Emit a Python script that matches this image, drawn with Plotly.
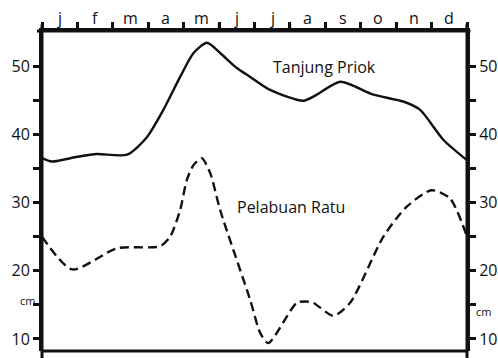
import plotly.graph_objects as go

# Monthly mean sea level (cm), position along the year in months from 1 January
months = ["j", "f", "m", "a", "m", "j", "j", "a", "s", "o", "n", "d"]

priok_t = [0, 0.28, 1.0, 1.55, 2.4, 2.95, 3.43, 3.9, 4.28, 4.66, 5.03, 5.5, 5.88, 6.44,
           7.38, 7.76, 8.42, 9.36, 10.2, 10.67, 11.33, 12.0]
priok_cm = [36.5, 36.0, 36.7, 37.1, 37.0, 39.5, 43.6, 48.4, 51.9, 53.4, 51.9, 49.7, 48.4, 46.5,
            44.9, 45.8, 47.7, 45.8, 44.8, 43.6, 39.2, 36.2]

ratu_t = [0, 0.85, 2.12, 3.34, 3.62, 3.9, 4.09, 4.28, 4.51, 4.75, 5.03, 5.88, 6.16, 6.39,
          7.19, 7.43, 7.66, 8.23, 8.7, 9.64, 10.3, 11.0, 11.52, 12.0]
ratu_cm = [25.0, 20.2, 23.3, 23.6, 25.0, 28.9, 33.3, 35.5, 36.5, 34.3, 28.9, 15.7, 10.9, 9.4,
           15.3, 15.5, 15.3, 13.4, 15.3, 25.0, 29.4, 31.8, 30.6, 25.0]

y_major = [10, 20, 30, 40, 50]
y_minor = [15, 25, 35, 45]
y_range = [8.24, 55.13]

FONT = "Open Sans, Noto Sans, sans-serif"
INK = "#111111"
PLOT_H = 358 - 31 - 7  # plot-area height in px

fig = go.Figure()

fig.add_trace(go.Scatter(
    x=priok_t, y=priok_cm, mode="lines", name="Tanjung Priok",
    line=dict(color=INK, width=2.4, shape="spline", smoothing=0.7),
    showlegend=False, hoverinfo="skip",
))
fig.add_trace(go.Scatter(
    x=ratu_t, y=ratu_cm, mode="lines", name="Pelabuan Ratu",
    line=dict(color=INK, width=2.4, shape="spline", smoothing=0.7, dash="9px,5px"),
    showlegend=False, hoverinfo="skip",
))
# invisible trace so the right-hand axis is drawn
fig.add_trace(go.Scatter(x=[0.5], y=[30], yaxis="y2", mode="markers",
                         marker=dict(opacity=0), showlegend=False, hoverinfo="skip"))

month_centres = [i + 0.5 for i in range(12)]
month_edges = list(range(13))

tick_style = dict(ticks="outside", ticklen=6, tickwidth=2.5, tickcolor=INK)

# month names centred between the boundary ticks, just above the top axis
month_labels = [
    dict(x=xc, y=1, xref="x", yref="paper", text=m, showarrow=False,
         yanchor="bottom", yshift=0, font=dict(size=16, family=FONT, color=INK))
    for xc, m in zip(month_centres, months)
]

# month-boundary ticks on the top axis
month_ticks = [
    dict(type="line", xref="x", yref="paper", x0=e, x1=e, y0=1, y1=1 + 7 / PLOT_H,
         line=dict(color=INK, width=2.5))
    for e in month_edges
]

frame = [
    # bottom border of the frame
    dict(type="line", xref="paper", yref="paper", x0=0, x1=1, y0=0, y1=0,
         line=dict(color=INK, width=3)),
    # axis lines continue a little past the frame corners
    dict(type="line", xref="paper", yref="paper", x0=0, x1=0, y0=-0.05, y1=1.02,
         line=dict(color=INK, width=3)),
    dict(type="line", xref="paper", yref="paper", x0=1, x1=1, y0=-0.05, y1=1.02,
         line=dict(color=INK, width=3)),
    dict(type="line", xref="paper", yref="paper", x0=-0.012, x1=1.008, y0=1, y1=1,
         line=dict(color=INK, width=3)),
]

fig.update_layout(
    width=498, height=358,
    margin=dict(l=42, r=31, t=31, b=7, autoexpand=False),
    paper_bgcolor="white", plot_bgcolor="white",
    font=dict(family=FONT, size=16, color=INK),
    xaxis=dict(
        range=[0, 12], side="top", showgrid=False, zeroline=False, automargin=False,
        showline=True, linecolor=INK, linewidth=3,
        tickmode="array", tickvals=month_edges, ticktext=[""] * len(month_edges),
        **tick_style,
    ),
    yaxis=dict(
        range=y_range, showgrid=False, zeroline=False, automargin=False,
        showline=True, linecolor=INK, linewidth=3,
        tickmode="array", tickvals=y_major, **tick_style,
        tickfont=dict(size=16, family=FONT, color=INK),
        minor=dict(tickmode="array", tickvals=y_minor, showgrid=False, **tick_style),
    ),
    yaxis2=dict(
        range=y_range, overlaying="y", side="right", showgrid=False, zeroline=False,
        automargin=False, showline=True, linecolor=INK, linewidth=3,
        tickmode="array", tickvals=y_major, **tick_style,
        tickfont=dict(size=16, family=FONT, color=INK),
        minor=dict(tickmode="array", tickvals=y_minor, showgrid=False, **tick_style),
    ),
    annotations=month_labels + [
        dict(x=7.97, y=49.85, xref="x", yref="y", text="Tanjung Priok",
             showarrow=False, font=dict(size=16, family=FONT, color=INK)),
        dict(x=7.03, y=29.4, xref="x", yref="y", text="Pelabuan Ratu",
             showarrow=False, font=dict(size=16, family=FONT, color=INK)),
        dict(x=-0.056, y=15.6, xref="paper", yref="y", text="cm",
             showarrow=False, font=dict(size=11, family=FONT, color=INK)),
        dict(x=1.062, y=14.1, xref="paper", yref="y", text="cm",
             showarrow=False, font=dict(size=11, family=FONT, color=INK)),
    ],
    shapes=month_ticks + frame,
)

fig.write_html("out.html")
